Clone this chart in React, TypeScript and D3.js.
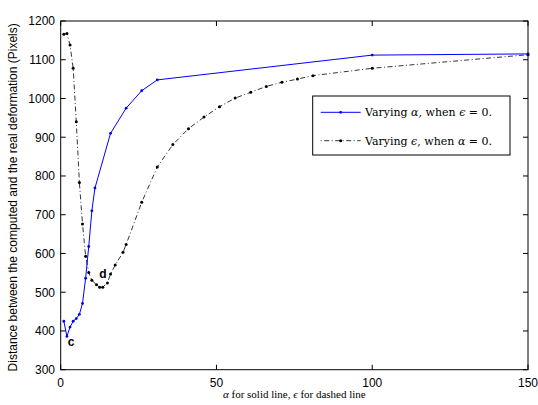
import React from "react";
import * as d3 from "d3";

// readings
const alphaX = [1, 2, 3, 4, 5, 6, 7, 8, 9, 10, 11, 16, 21, 26, 31, 100, 150];
const alphaY = [425, 386, 410, 425, 432, 443, 471, 536, 618, 710, 769, 910, 975, 1020, 1048, 1112, 1115];

const epsX = [1, 2, 3, 4, 5, 6, 7, 8, 9, 10, 11.5, 12.5, 13.5, 15, 16, 17.5, 20, 21, 26, 31, 36, 41, 46, 51, 56, 61, 66, 71, 76, 81, 100, 150];
const epsY = [1166, 1168, 1138, 1078, 940, 783, 676, 593, 551, 531, 519, 513, 513, 524, 547, 570, 603, 623, 732, 823, 881, 922, 952, 979, 1001, 1016, 1031, 1042, 1050, 1059, 1078, 1113];

const xTicks = [0, 50, 100, 150];
const yTicks = [300, 400, 500, 600, 700, 800, 900, 1000, 1100, 1200];

const W = 538, H = 405;
const left = 60.7, right = 528, top = 21, bottom = 369.7;
const tickLen = 5;
const sans = "'Liberation Sans', Arial, Helvetica, sans-serif";
const serif = "'Liberation Serif', 'DejaVu Serif', serif";
const legendFont = "'DejaVu Serif', 'Liberation Serif', serif";

export default function App() {
  const x = d3.scaleLinear().domain([0, 150]).range([left, right]);
  const y = d3.scaleLinear().domain([300, 1200]).range([bottom, top]);

  const alpha = alphaX.map((v, i) => [v, alphaY[i]] as [number, number]);
  const eps = epsX.map((v, i) => [v, epsY[i]] as [number, number]);
  const line = d3.line<[number, number]>().x(d => x(d[0])).y(d => y(d[1]));

  const lx0 = 320.7, lx1 = 360.7, ly1 = 112.3, ly2 = 140.7;

  return (
    <svg width={W} height={H} style={{ position: "absolute", left: 0, top: 0, background: "#fff" }}>
      <rect x={0} y={0} width={W} height={H} fill="#fff" />

      {/* series */}
      <path d={line(eps) || ""} fill="none" stroke="#000" strokeWidth={0.8} strokeDasharray="5,2.5,1,2.5" />
      {eps.map((d, i) => (
        <circle key={"e" + i} cx={x(d[0])} cy={y(d[1])} r={1.5} fill="#000" />
      ))}
      <path d={line(alpha) || ""} fill="none" stroke="#0000ff" strokeWidth={1} />
      {alpha.map((d, i) => (
        <circle key={"a" + i} cx={x(d[0])} cy={y(d[1])} r={1.4} fill="#0000ff" />
      ))}

      {/* annotations */}
      <text x={71} y={346} fontFamily={sans} fontWeight="bold" fontSize={12} textAnchor="middle">c</text>
      <text x={103} y={278} fontFamily={sans} fontWeight="bold" fontSize={12} textAnchor="middle">d</text>

      {/* frame and ticks */}
      <rect x={left} y={top} width={right - left} height={bottom - top} fill="none" stroke="#000" strokeWidth={1} />
      {xTicks.map(t => (
        <g key={"x" + t}>
          <line x1={x(t)} x2={x(t)} y1={bottom} y2={bottom - tickLen} stroke="#000" />
          <line x1={x(t)} x2={x(t)} y1={top} y2={top + tickLen} stroke="#000" />
          <text x={x(t)} y={387} fontFamily={sans} fontSize={12} textAnchor="middle">{t}</text>
        </g>
      ))}
      {yTicks.map(t => (
        <g key={"y" + t}>
          <line x1={left} x2={left + tickLen} y1={y(t)} y2={y(t)} stroke="#000" />
          <line x1={right} x2={right - tickLen} y1={y(t)} y2={y(t)} stroke="#000" />
          <text x={55} y={y(t) + 4.3} fontFamily={sans} fontSize={12} textAnchor="end">{t}</text>
        </g>
      ))}

      {/* axis labels */}
      <text x={(left + right) / 2} y={398} fontFamily={serif} fontSize={11} textAnchor="middle">
        <tspan fontStyle="italic">α</tspan> for solid line, <tspan fontStyle="italic">ϵ</tspan> for dashed line
      </text>
      <text transform={`translate(17,${(top + bottom) / 2 + 2}) rotate(-90)`} fontFamily={sans} fontSize={12} textAnchor="middle">
        Distance between the computed and the real deformation (Pixels)
      </text>

      {/* legend */}
      <rect x={312.7} y={96} width={197.3} height={59} fill="#fff" stroke="#000" strokeWidth={1} />
      <line x1={lx0} x2={lx1} y1={ly1} y2={ly1} stroke="#0000ff" strokeWidth={1} />
      <circle cx={(lx0 + lx1) / 2} cy={ly1} r={1.4} fill="#0000ff" />
      <text x={365} y={ly1 + 4} fontFamily={legendFont} fontSize={11}>
        Varying <tspan fontStyle="italic">α</tspan>, when <tspan fontStyle="italic">ϵ</tspan> = 0.
      </text>
      <line x1={lx0} x2={lx1} y1={ly2} y2={ly2} stroke="#000" strokeWidth={0.8} strokeDasharray="1,2.5,5,2.5" />
      <circle cx={(lx0 + lx1) / 2} cy={ly2} r={1.5} fill="#000" />
      <text x={365} y={ly2 + 4} fontFamily={legendFont} fontSize={11}>
        Varying <tspan fontStyle="italic">ϵ</tspan>, when <tspan fontStyle="italic">α</tspan> = 0.
      </text>
    </svg>
  );
}
